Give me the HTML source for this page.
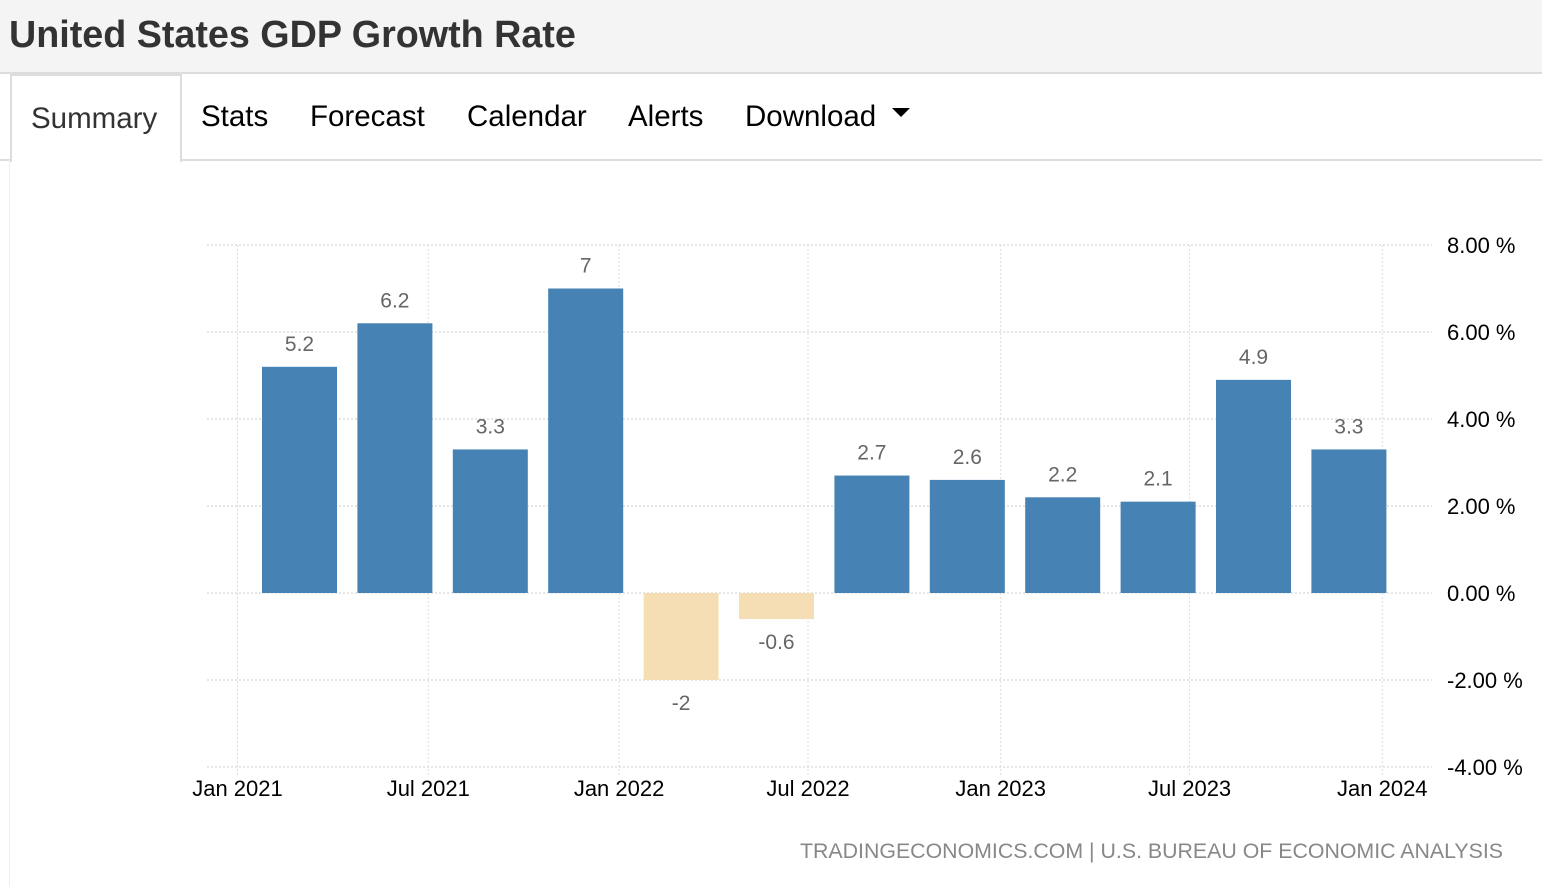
<!DOCTYPE html>
<html><head><meta charset="utf-8"><style>
body{margin:0;width:1542px;height:886px;background:#fff;font-family:"Liberation Sans",sans-serif;overflow:hidden;position:relative}
#hdr{position:absolute;left:0;top:0;width:1542px;height:72px;background:#f4f4f4;border-bottom:2px solid #ddd}
#hdr h1{margin:0;position:absolute;left:9px;top:13px;font-size:37.7px;font-weight:bold;color:#333}
#tabs{position:absolute;left:0;top:74px;width:1542px;height:85px;border-bottom:2px solid #ddd}
.tab{position:absolute;top:26px;font-size:29.5px;color:#000}
#sum{position:absolute;left:10px;top:0;width:168px;height:86px;border:2px solid #ddd;border-bottom:none;background:#fff}
#leftline{position:absolute;left:9px;top:160px;width:1px;height:726px;background:#eee}
</style></head><body>
<div id="hdr"><h1>United States GDP Growth Rate</h1></div>
<div id="tabs">
<div id="sum"><span style="position:absolute;left:19px;top:26px;font-size:29.5px;color:#333">Summary</span></div>
<span class="tab" style="left:201px">Stats</span>
<span class="tab" style="left:310px">Forecast</span>
<span class="tab" style="left:467px">Calendar</span>
<span class="tab" style="left:628px">Alerts</span>
<span class="tab" style="left:745px">Download <span style="display:inline-block;width:0;height:0;border-left:9px solid transparent;border-right:9px solid transparent;border-top:9px solid #000;vertical-align:middle;margin-left:8px;position:relative;top:-6px"></span></span>
</div>
<div id="leftline"></div>
<svg id="chart" width="1542" height="886" style="position:absolute;left:0;top:0"></svg>
<script>
const categories=["Q1 2021","Q2 2021","Q3 2021","Q4 2021","Q1 2022","Q2 2022","Q3 2022","Q4 2022","Q1 2023","Q2 2023","Q3 2023","Q4 2023"];
const values=[5.2,6.2,3.3,7,-2,-0.6,2.7,2.6,2.2,2.1,4.9,3.3];
const yTicks=[8,6,4,2,0,-2,-4];
const xLabels=["Jan 2021","Jul 2021","Jan 2022","Jul 2022","Jan 2023","Jul 2023","Jan 2024"];
const xLabelIndex=[-0.65,1.35,3.35,5.33,7.35,9.33,11.35];
const svg=document.getElementById('chart');
const NS='http://www.w3.org/2000/svg';
function y(v){return 593-v*43.5;}
function xc(i){return 299.5+i*95.4;}
function mk(t,a,txt){const e=document.createElementNS(NS,t);for(const k in a)e.setAttribute(k,a[k]);if(txt!==undefined)e.textContent=txt;svg.appendChild(e);return e;}
yTicks.forEach(v=>{
 const l=mk('line',{x1:207,x2:1432,y1:y(v),y2:y(v),stroke:'#ccc','stroke-dasharray':'2,2'});
 
 
 const t=mk('text',{x:1447,y:y(v)+8,'font-size':22,fill:'#000'},v.toFixed(2)+' %');
 
 
});
xLabels.forEach((s,i)=>{
 const x=xc(xLabelIndex[i]);
 const l=mk('line',{x1:x,x2:x,y1:245,y2:775,stroke:'#ddd','stroke-dasharray':'2,2'});
 
 
 const t=mk('text',{x:x,y:796,'font-size':22,fill:'#000','text-anchor':'middle'},s);
 
 
});
values.forEach((v,i)=>{
 const x=xc(i)-37.5;
 const top=Math.min(y(v),y(0)),h=Math.abs(y(v)-y(0));
 const r=mk('rect',{x:x,y:top,width:75,height:h,fill:v>=0?'#4682b4':'#f5deb3'});
 
 
 const ty=v>=0?y(v)-16:y(v)+30;
 const t=mk('text',{x:xc(i),y:ty,'font-size':21,fill:'#666','text-anchor':'middle'},String(v));
 
 
});
const src=mk('text',{x:1503,y:858,'font-size':21,fill:'#888','text-anchor':'end',textLength:703,lengthAdjust:'spacingAndGlyphs'},'TRADINGECONOMICS.COM | U.S. BUREAU OF ECONOMIC ANALYSIS');


</script>
</body></html>
